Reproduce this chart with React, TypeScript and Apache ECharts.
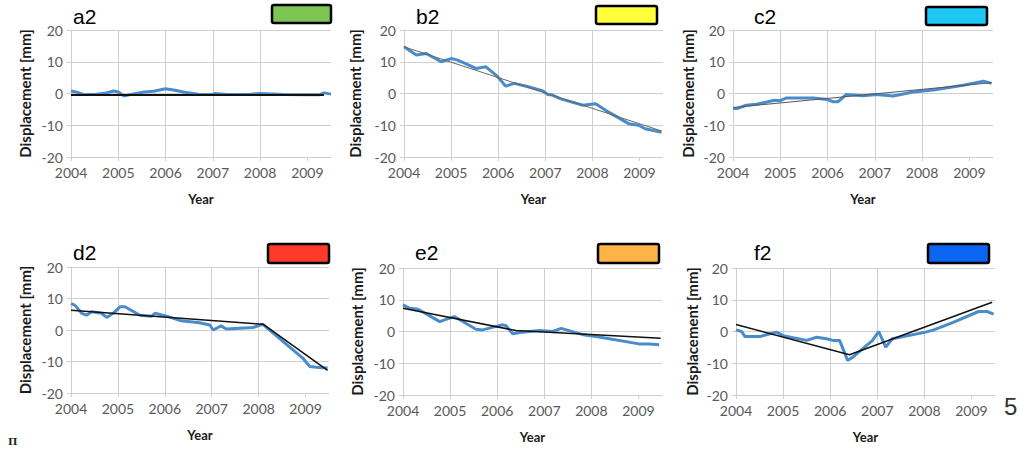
import React, { useEffect, useRef } from "react";
import * as echarts from "echarts";

// ---- data ----
const yearTicks = [2004, 2005, 2006, 2007, 2008, 2009];
const panelTitles = ["a2", "b2", "c2", "d2", "e2", "f2"];
const xLabel = "Year";
const yLabel = "Displacement [mm]";

const a2Displacement: [number, number][] = [
  [2004.0, 0.8], [2004.1, 0.5], [2004.25, -0.2], [2004.5, -0.3], [2004.75, 0.2], [2004.9, 0.8],
  [2005.0, 0.5], [2005.12, -0.8], [2005.3, -0.2], [2005.55, 0.5], [2005.75, 0.7], [2006.0, 1.5],
  [2006.2, 1.0], [2006.4, 0.4], [2006.7, -0.2], [2007.0, -0.3], [2007.05, 0.0], [2007.3, -0.3],
  [2007.8, -0.2], [2008.0, 0.0], [2008.5, -0.3], [2009.0, -0.4], [2009.25, -0.4], [2009.35, 0.2],
  [2009.5, -0.2],
];
const a2Trend: [number, number][] = [[2004.0, -0.5], [2009.35, -0.5]];

const b2Displacement: [number, number][] = [
  [2004.0, 14.7], [2004.26, 12.1], [2004.47, 12.6], [2004.79, 10.0], [2005.0, 11.0], [2005.14, 10.5],
  [2005.53, 7.9], [2005.74, 8.4], [2005.99, 5.3], [2006.16, 2.3], [2006.34, 3.2], [2006.6, 2.3],
  [2006.95, 0.8], [2007.05, -0.3], [2007.15, -0.5], [2007.33, -1.7], [2007.8, -3.7], [2008.07, -3.2],
  [2008.28, -5.3], [2008.77, -9.5], [2008.98, -10.0], [2009.12, -11.1], [2009.47, -12.2],
];
const b2Trend: [number, number][] = [[2004.0, 14.7], [2009.47, -11.8]];

const c2Displacement: [number, number][] = [
  [2004.0, -4.7], [2004.1, -4.7], [2004.28, -3.7], [2004.5, -3.4], [2004.74, -2.6], [2004.88, -2.1],
  [2004.99, -2.3], [2005.13, -1.4], [2005.41, -1.4], [2005.7, -1.4], [2006.0, -1.9], [2006.12, -2.6],
  [2006.22, -2.6], [2006.4, -0.3], [2006.75, -0.7], [2007.04, -0.3], [2007.39, -0.8], [2007.81, 0.5],
  [2008.24, 1.1], [2008.87, 2.6], [2009.3, 3.9], [2009.47, 3.2],
];
const c2Trend: [number, number][] = [[2004.0, -4.4], [2009.47, 3.4]];

const d2Displacement: [number, number][] = [
  [2004.0, 8.4], [2004.08, 7.9], [2004.23, 5.3], [2004.33, 4.7], [2004.44, 5.8], [2004.65, 5.3],
  [2004.76, 4.0], [2004.9, 5.3], [2005.05, 7.4], [2005.15, 7.4], [2005.47, 4.7], [2005.72, 4.4],
  [2005.79, 5.3], [2006.04, 4.4], [2006.35, 2.9], [2006.74, 2.3], [2006.96, 1.6], [2007.03, 0.0],
  [2007.2, 1.3], [2007.31, 0.3], [2007.88, 0.8], [2008.09, 1.8], [2008.94, -8.9], [2009.09, -11.6],
  [2009.23, -11.8], [2009.47, -12.1],
];
const d2Trend: [number, number][] = [[2004.0, 6.3], [2008.1, 1.8], [2009.47, -12.8]];

const e2Displacement: [number, number][] = [
  [2004.0, 8.4], [2004.14, 7.3], [2004.32, 7.0], [2004.78, 3.1], [2004.99, 4.2], [2005.09, 4.7],
  [2005.55, 0.7], [2005.69, 0.5], [2005.98, 1.6], [2006.12, 2.1], [2006.19, 1.8], [2006.33, -0.7],
  [2006.54, -0.2], [2006.9, 0.3], [2007.18, 0.0], [2007.36, 1.0], [2007.82, -1.0], [2008.1, -1.6],
  [2009.01, -3.9], [2009.23, -3.9], [2009.44, -4.2],
];
const e2Trend: [number, number][] = [[2004.0, 7.3], [2006.4, 0.3], [2009.47, -2.1]];

const f2Displacement: [number, number][] = [
  [2004.0, 0.5], [2004.12, 0.0], [2004.19, -1.6], [2004.51, -1.6], [2004.72, -0.7], [2004.86, -0.2],
  [2005.0, -1.3], [2005.5, -2.8], [2005.71, -1.8], [2005.92, -2.3], [2006.06, -2.8], [2006.2, -2.8],
  [2006.37, -9.1], [2006.48, -8.1], [2006.9, -2.8], [2007.03, 0.0], [2007.18, -4.9], [2007.32, -2.3],
  [2008.03, -0.2], [2008.2, 0.5], [2008.6, 2.8], [2009.15, 6.3], [2009.33, 6.3], [2009.47, 5.5],
];
const f2Trend: [number, number][] = [[2004.0, 2.2], [2006.41, -7.3], [2009.44, 9.2]];

const displacementSeries = [a2Displacement, b2Displacement, c2Displacement, d2Displacement, e2Displacement, f2Displacement];
const trendSeries = [a2Trend, b2Trend, c2Trend, d2Trend, e2Trend, f2Trend];

// ---- styles / layout ----
const swatchColors = ["#7cc552", "#ffff3c", "#1ec8f2", "#ff3a28", "#ffb246", "#0a66f2"];
const trendStyles = [
  { color: "#111", width: 2 },
  { color: "#666", width: 1 },
  { color: "#555", width: 1 },
  { color: "#111", width: 1.5 },
  { color: "#111", width: 1.5 },
  { color: "#111", width: 1.5 },
];
const grids = [
  { left: 71, top: 30, width: 260, height: 127, nameGap: 39, titleX: 73, titleY: 18, sw: [272, 5, 59, 18] },
  { left: 404, top: 30, width: 259, height: 127, nameGap: 42, titleX: 416, titleY: 18, sw: [596, 6, 61, 18] },
  { left: 733, top: 30, width: 260, height: 127, nameGap: 38, titleX: 754, titleY: 18, sw: [926, 7, 61, 18] },
  { left: 71, top: 267, width: 258, height: 126, nameGap: 39, titleX: 73, titleY: 254, sw: [268, 244, 61, 19] },
  { left: 403, top: 268, width: 259, height: 127, nameGap: 39, titleX: 415, titleY: 254, sw: [598, 244, 61, 19] },
  { left: 736, top: 268, width: 259, height: 127, nameGap: 37, titleX: 754, titleY: 254, sw: [928, 244, 61, 19] },
];
const gridColor = "#cfcfcf";
const labelFont = "Lato, 'Open Sans', sans-serif";

export default function App() {
  const ref = useRef<HTMLDivElement>(null);
  useEffect(() => {
    if (!ref.current) return;
    const chart = echarts.init(ref.current, undefined, { renderer: "svg" });
    const graphic: any[] = [];
    grids.forEach((g, i) => {
      graphic.push({
        type: "text",
        left: g.titleX,
        top: g.titleY - 12,
        style: { text: panelTitles[i], font: "21px 'Liberation Sans', Arial, sans-serif", fill: "#000" },
      });
      graphic.push({
        type: "rect",
        shape: { x: g.sw[0], y: g.sw[1], width: g.sw[2], height: g.sw[3], r: 2 },
        style: { fill: swatchColors[i], stroke: "#000", lineWidth: 2.5 },
      });
    });
    graphic.push({
      type: "text",
      left: 1004,
      top: 394,
      style: { text: "5", font: "24px 'Liberation Sans', Arial, sans-serif", fill: "#333" },
    });
    graphic.push({
      type: "text",
      left: 8,
      top: 436,
      style: { text: "Π", font: "bold 10px 'DejaVu Serif', serif", fill: "#222" },
    });

    const option: any = {
      animation: false,
      grid: grids.map((g) => ({ left: g.left, top: g.top, width: g.width, height: g.height, containLabel: false })),
      xAxis: grids.map((g, i) => ({
        type: "value",
        gridIndex: i,
        min: 2004,
        max: 2009.5,
        interval: 1,
        name: xLabel,
        nameLocation: "middle",
        nameGap: 35,
        nameTextStyle: { fontFamily: labelFont, fontWeight: "bold", fontSize: 13, color: "#1a1a1a" },
        axisLine: { show: true, onZero: false, lineStyle: { color: gridColor, width: 1 } },
        axisTick: { show: true, length: 4, lineStyle: { color: gridColor }, customValues: yearTicks },
        axisLabel: {
          fontFamily: labelFont,
          fontSize: 14,
          color: "#595959",
          margin: 8,
          customValues: yearTicks,
          formatter: (v: number) => (Number.isInteger(v) ? String(v) : ""),
        },
        splitLine: { show: true, showMaxLine: false, lineStyle: { color: gridColor, width: 1 } },
      })),
      yAxis: grids.map((g, i) => ({
        type: "value",
        gridIndex: i,
        min: -20,
        max: 20,
        interval: 10,
        name: yLabel,
        nameLocation: "middle",
        nameGap: g.nameGap,
        nameRotate: 90,
        nameTextStyle: { fontFamily: labelFont, fontWeight: "bold", fontSize: 15, color: "#1a1a1a" },
        axisLine: { show: true, onZero: false, lineStyle: { color: gridColor, width: 1 } },
        axisTick: { show: true, length: 4, lineStyle: { color: gridColor } },
        axisLabel: { fontFamily: labelFont, fontSize: 14, color: "#595959", margin: 8 },
        splitLine: { show: true, lineStyle: { color: gridColor, width: 1 } },
      })),
      series: [
        ...displacementSeries.map((d, i) => ({
          type: "line",
          xAxisIndex: i,
          yAxisIndex: i,
          data: d,
          showSymbol: false,
          silent: true,
          lineStyle: { color: "#4a8ccb", width: 3 },
          z: 2,
        })),
        ...trendSeries.map((d, i) => ({
          type: "line",
          xAxisIndex: i,
          yAxisIndex: i,
          data: d,
          showSymbol: false,
          silent: true,
          lineStyle: { color: trendStyles[i].color, width: trendStyles[i].width },
          z: 3,
        })),
      ],
      graphic,
    };
    chart.setOption(option);
    return () => chart.dispose();
  }, []);
  return (
    <div
      ref={ref}
      style={{ position: "absolute", left: 0, top: 0, width: 1019, height: 449, background: "#fff" }}
    />
  );
}
